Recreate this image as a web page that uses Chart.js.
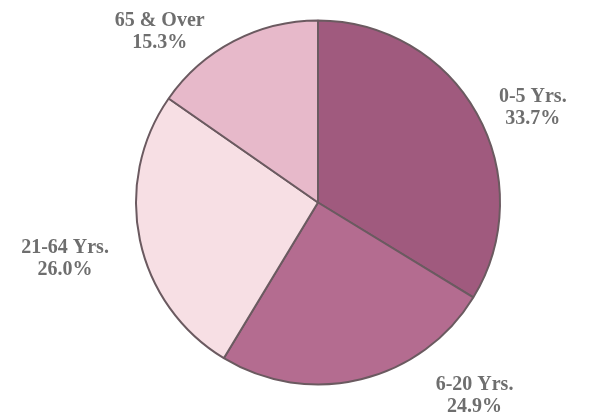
<!DOCTYPE html>
<html>
<head>
<meta charset="utf-8">
<script src="https://cdn.jsdelivr.net/npm/chart.js@4/dist/chart.umd.min.js"></script>
<style>
  html, body { margin: 0; padding: 0; background: #ffffff; }
  #wrap { width: 589px; height: 415px; position: relative; }
</style>
</head>
<body>
<div id="wrap"><canvas id="ageChart"></canvas></div>
<script>
// Age groups, clockwise from the top
const categories = ['0-5 Yrs.', '6-20 Yrs.', '21-64 Yrs.', '65 & Over'];
const shares = [33.7, 24.9, 26.0, 15.3];
const sliceColors = ['#a05a7e', '#b46c90', '#f7dfe4', '#e7b9ca'];

// Where each label sits, relative to the pie centre, in units of the radius
const labelSpots = [
  { dx: 1.18, dy: -0.52 },
  { dx: 0.86, dy: 1.06 },
  { dx: -1.39, dy: 0.31 },
  { dx: -0.87, dy: -0.94 }
];

// Draw the two-line labels beside the pie
const sliceLabels = {
  id: 'sliceLabels',
  afterDatasetsDraw(chart) {
    const ctx = chart.ctx;
    const meta = chart.getDatasetMeta(0);
    ctx.save();
    ctx.font = 'bold 20px "Liberation Serif", "DejaVu Serif", serif';
    ctx.fillStyle = '#6e6e6e';
    ctx.textAlign = 'center';
    ctx.textBaseline = 'middle';
    meta.data.forEach((arc, i) => {
      const r = arc.outerRadius;
      const x = arc.x + labelSpots[i].dx * r;
      const y = arc.y + labelSpots[i].dy * r;
      ctx.fillText(categories[i], x, y - 11);
      ctx.fillText(shares[i].toFixed(1) + '%', x, y + 11);
    });
    ctx.restore();
  }
};

new Chart(document.getElementById('ageChart'), {
  type: 'pie',
  data: {
    labels: categories,
    datasets: [{
      data: shares,
      backgroundColor: sliceColors,
      borderColor: '#6b5a60',
      borderWidth: 2
    }]
  },
  options: {
    responsive: true,
    maintainAspectRatio: false,
    animation: false,
    rotation: 0,
    radius: 182,
    layout: { padding: { left: 136, right: 89, top: 20, bottom: 30 } },
    plugins: {
      legend: { display: false },
      tooltip: { enabled: false }
    }
  },
  plugins: [sliceLabels]
});
</script>
</body>
</html>
